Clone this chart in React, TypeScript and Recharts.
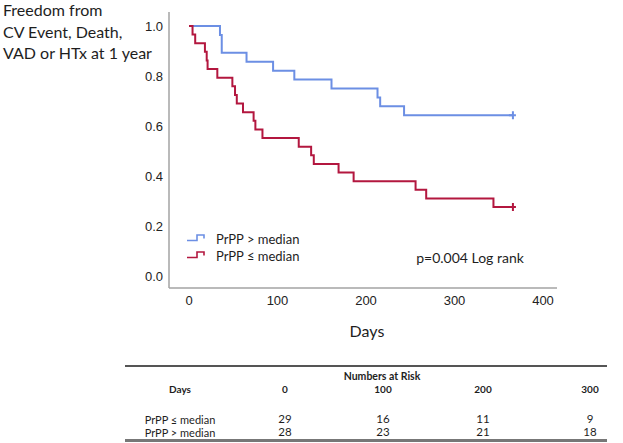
import { Line, LineChart, XAxis, YAxis } from "recharts";

// Kaplan-Meier steps (day of event, survival after it)
const highDays = [0, 35, 37, 65, 95, 119, 161, 213, 216, 243, 366];
const highSurvival = [1, 0.964, 0.893, 0.857, 0.821, 0.786, 0.75, 0.714, 0.679, 0.643, 0.643];

const lowDays = [0, 4, 7, 18, 20, 21, 32, 49, 52, 54, 61, 73, 75, 83, 124, 138, 141, 169, 186, 256, 268, 344, 366];
const lowSurvival = [
  1, 0.966, 0.931, 0.897, 0.862, 0.828, 0.793, 0.759, 0.724, 0.69, 0.655, 0.621, 0.586, 0.552, 0.517,
  0.483, 0.448, 0.414, 0.379, 0.345, 0.31, 0.276, 0.276,
];

const xTicks = [0, 100, 200, 300, 400];
const yTicks = [0, 0.2, 0.4, 0.6, 0.8, 1.0];

const riskDays = [0, 100, 200, 300];
const riskLow = [29, 16, 11, 9];
const riskHigh = [28, 23, 21, 18];

const titleLines = ["Freedom from", "CV Event, Death,", "VAD or HTx at 1 year"];

const BLUE = "#6c8fe4";
const RED = "#b3173f";
const AXIS = "#a3a3a3";
const CALIBRI = "Lato, 'Open Sans', sans-serif";
const ARIAL = "'Liberation Sans', Arial, sans-serif";

const highData = highDays.map((day, i) => ({ day, value: highSurvival[i] }));
const lowData = lowDays.map((day, i) => ({ day, value: lowSurvival[i] }));

function censorDot(color: string, lastIndex: number) {
  return (props: any) => {
    const { cx, cy, index } = props;
    if (index !== lastIndex) {
      return <g key={`d-${index}`} />;
    }
    return (
      <g key={`d-${index}`}>
        <path d={`M${cx},${cy - 4}V${cy + 4}M${cx - 4},${cy}H${cx + 3}`} stroke={color} strokeWidth={2} fill="none" />
      </g>
    );
  };
}

function Centered({
  x,
  y,
  size,
  bold,
  children,
}: {
  x: number;
  y: number;
  size: number;
  bold?: boolean;
  children: React.ReactNode;
}) {
  return (
    <div
      style={{
        position: "absolute",
        left: x,
        top: y,
        transform: "translate(-50%, -50%)",
        fontFamily: CALIBRI,
        fontSize: size,
        fontWeight: bold ? 700 : 400,
        lineHeight: 1,
        whiteSpace: "nowrap",
        color: "#1e1e1e",
      }}
    >
      {children}
    </div>
  );
}

function LegendIcon({ color }: { color: string }) {
  return (
    <svg width={20} height={10} style={{ position: "absolute", left: 0, top: 0 }}>
      <polyline points="0,7.5 10,7.5 10,2 17,2 17,5.5" stroke={color} strokeWidth={1.6} fill="none" />
    </svg>
  );
}

export default function App() {
  const colX = [285, 383, 483, 590];

  return (
    <div style={{ position: "absolute", left: 0, top: 0, width: 623, height: 443, background: "#fff" }}>
      {titleLines.map((line, i) => (
        <div
          key={line}
          style={{
            position: "absolute",
            left: 3,
            top: 1 + i * 21.5,
            fontFamily: CALIBRI,
            fontSize: 16,
            lineHeight: "18px",
            whiteSpace: "nowrap",
            color: "#1e1e1e",
          }}
        >
          {line}
        </div>
      ))}

      <div style={{ position: "absolute", left: 0, top: 0 }}>
        <LineChart width={623} height={330} margin={{ top: 12, right: 66, bottom: 12, left: 129 }}>
          <XAxis
            type="number"
            dataKey="day"
            domain={[-22.6, 415.8]}
            allowDataOverflow
            ticks={xTicks}
            height={30}
            tickLine={false}
            tickSize={6}
            tickMargin={2}
            axisLine={{ stroke: AXIS, strokeWidth: 1.5 }}
            tick={{ fill: "#222", fontSize: 13, fontFamily: ARIAL }}
          />
          <YAxis
            type="number"
            dataKey="value"
            domain={[-0.048, 1.056]}
            allowDataOverflow
            ticks={yTicks}
            width={40}
            tickLine={false}
            tickSize={4}
            tickMargin={2}
            tickFormatter={(v) => Number(v).toFixed(1)}
            axisLine={{ stroke: AXIS, strokeWidth: 1.5 }}
            tick={{ fill: "#222", fontSize: 13, fontFamily: ARIAL }}
          />
          <Line
            data={highData}
            dataKey="value"
            type="stepAfter"
            stroke={BLUE}
            strokeWidth={2}
            dot={censorDot(BLUE, highData.length - 1)}
            activeDot={false}
            isAnimationActive={false}
          />
          <Line
            data={lowData}
            dataKey="value"
            type="stepAfter"
            stroke={RED}
            strokeWidth={2}
            dot={censorDot(RED, lowData.length - 1)}
            activeDot={false}
            isAnimationActive={false}
          />
        </LineChart>
      </div>

      {/* legend */}
      <div style={{ position: "absolute", left: 187, top: 233, width: 20, height: 10 }}>
        <LegendIcon color={BLUE} />
      </div>
      <div style={{ position: "absolute", left: 187, top: 250, width: 20, height: 10 }}>
        <LegendIcon color={RED} />
      </div>
      <div
        style={{
          position: "absolute",
          left: 216,
          top: 232,
          fontFamily: CALIBRI,
          fontSize: 13,
          lineHeight: "14px",
          whiteSpace: "nowrap",
          color: "#1e1e1e",
        }}
      >
        PrPP &gt; median
      </div>
      <div
        style={{
          position: "absolute",
          left: 216,
          top: 249,
          fontFamily: CALIBRI,
          fontSize: 13,
          lineHeight: "14px",
          whiteSpace: "nowrap",
          color: "#1e1e1e",
        }}
      >
        PrPP ≤ median
      </div>

      <Centered x={470} y={258} size={14}>
        p=0.004 Log rank
      </Centered>

      <Centered x={367} y={331} size={16}>
        Days
      </Centered>

      {/* numbers at risk table */}
      <div style={{ position: "absolute", left: 125, top: 365, width: 482, height: 1.5, background: "#555" }} />
      <Centered x={382} y={376} size={10.5} bold>
        Numbers at Risk
      </Centered>
      <Centered x={180} y={389} size={10} bold>
        Days
      </Centered>
      {riskDays.map((d, i) => (
        <Centered key={`h-${d}`} x={colX[i]} y={389} size={10} bold>
          {d}
        </Centered>
      ))}
      <Centered x={180} y={419} size={11}>
        PrPP ≤ median
      </Centered>
      {riskLow.map((n, i) => (
        <Centered key={`l-${i}`} x={colX[i]} y={419} size={11.5}>
          {n}
        </Centered>
      ))}
      <Centered x={180} y={432} size={11}>
        PrPP &gt; median
      </Centered>
      {riskHigh.map((n, i) => (
        <Centered key={`r-${i}`} x={colX[i]} y={432} size={11.5}>
          {n}
        </Centered>
      ))}
      <div style={{ position: "absolute", left: 125, top: 439, width: 482, height: 2.5, background: "#777" }} />
    </div>
  );
}
